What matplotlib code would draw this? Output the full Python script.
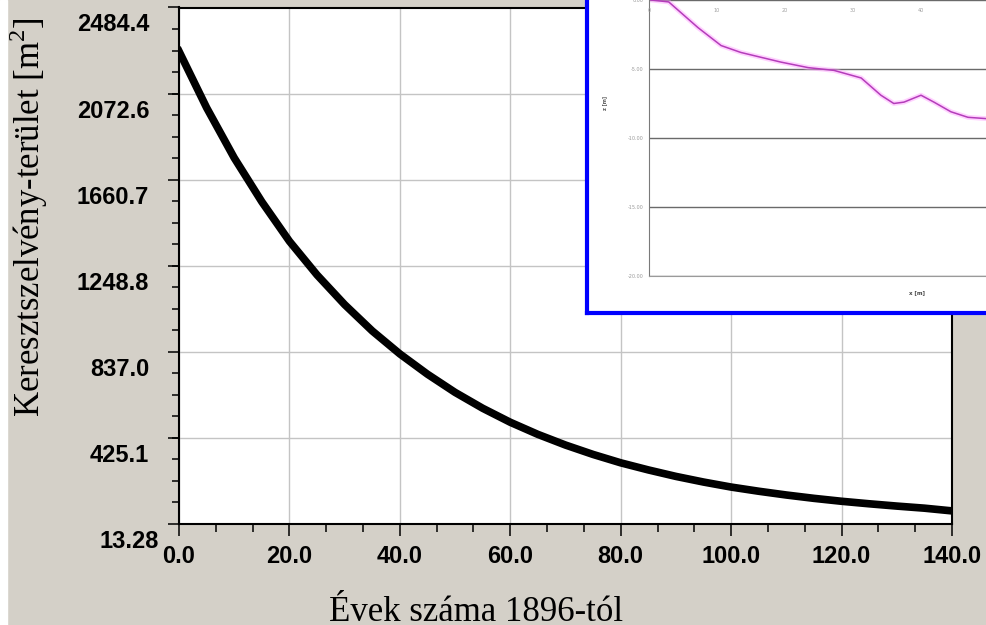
import numpy as np
import matplotlib
matplotlib.use('Agg')
import matplotlib.pyplot as plt
from matplotlib.ticker import FixedLocator, MultipleLocator
from matplotlib.transforms import ScaledTranslation
from matplotlib.patches import Rectangle

# main curve: cross-section area vs. years since 1896
years = [0, 5, 10, 15, 20, 25, 30, 35, 40, 45, 50, 55, 60, 65, 70,
         75, 80, 85, 90, 95, 100, 105, 110, 115, 120, 125, 130, 135, 140]
area = [2275, 2005, 1765, 1555, 1366, 1205, 1063, 937, 827, 730, 643, 567, 500, 442, 391,
        346, 306, 272, 241, 214, 190, 170, 152, 136, 122, 110, 99, 89, 76]

ytick_vals = [13.28, 425.1, 837.0, 1248.8, 1660.7, 2072.6, 2484.4]
ytick_labels = ['13.28', '425.1', '837.0', '1248.8', '1660.7', '2072.6', '2484.4']
xtick_vals = [0, 20, 40, 60, 80, 100, 120, 140]
xtick_labels = ['0.0', '20.0', '40.0', '60.0', '80.0', '100.0', '120.0', '140.0']

# inset picture (cross-section profile)
inset_x = [-1.0, 0.3, 2.9, 7.2, 10.6, 13.5, 19.4, 23.4, 27.2, 31.2, 34.1, 36.0,
           37.5, 40.0, 41.9, 44.4, 46.9, 49.7, 53.0]
inset_y = [0.4, 0.0, -0.14, -2.0, -3.3, -3.8, -4.5, -4.9, -5.1, -5.65, -6.9, -7.5,
           -7.4, -6.9, -7.4, -8.1, -8.5, -8.6, -8.7]
inset_xticks = [0, 10, 20, 30, 40, 50]
inset_yticks = [0, -5, -10, -15, -20]
inset_ylabels = ['0.00', '-5.00', '-10.00', '-15.00', '-20.00']

W, H = 986, 625
bg = '#d4d0c8'
plt.rcParams['mathtext.fontset'] = 'custom'
plt.rcParams['mathtext.rm'] = 'Liberation Serif'


def px_box(x0, y0, x1, y1):
    return [x0 / W, 1 - y1 / H, (x1 - x0) / W, (y1 - y0) / H]


fig = plt.figure(figsize=(W / 100, H / 100), dpi=100, facecolor=bg)
fig.add_artist(Rectangle((0, 0), 7 / W, 1, transform=fig.transFigure,
                         color='white', zorder=0))

ax = fig.add_axes(px_box(179, 7.5, 952, 524))
ax.set_facecolor('white')
ax.plot(years, area, color='black', lw=5.5, zorder=3)
ax.set_xlim(0, 140)
ax.set_ylim(13.28, 2484.4)
ax.set_xticks(xtick_vals)
ax.set_xticklabels(xtick_labels)
ax.xaxis.set_minor_locator(MultipleLocator(20 / 3))
ax.set_yticks(ytick_vals)
ax.set_yticklabels(ytick_labels)
ax.yaxis.set_minor_locator(FixedLocator(np.linspace(13.28, 2484.4, 25)))
ax.grid(which='major', color='#c4c4c4', lw=1.0)
ax.set_axisbelow(True)
for s in ax.spines.values():
    s.set_linewidth(1.5)
    s.set_color('black')

ax.tick_params(axis='x', which='major', direction='out', length=8.6, width=1.1,
               pad=6.5, labelsize=17)
ax.tick_params(axis='x', which='minor', direction='out', length=5.8, width=1.1)
ax.tick_params(axis='y', which='major', direction='out', length=8, width=1.1,
               pad=13.5, labelsize=17)
ax.tick_params(axis='y', which='minor', direction='out', length=5, width=1.1)

for lab in ax.get_xticklabels() + ax.get_yticklabels():
    lab.set_fontweight('bold')
    lab.set_family('Liberation Sans')

# y labels sit a bit below their ticks in the original
ylabs = ax.get_yticklabels()
for i, lab in enumerate(ylabs):
    dx = 10 / 100 if i == 0 else 0
    lab.set_transform(lab.get_transform() +
                      ScaledTranslation(dx, -15 / 100, fig.dpi_scale_trans))

fig.text(29 / W, 1 - 217 / H, r'Keresztszelvény-terület [m$^\mathrm{2}$]',
         rotation=90, ha='center', va='center', fontsize=25,
         family='Liberation Serif')
fig.text(476 / W, 1 - 621 / H, 'Évek száma 1896-tól', ha='center',
         va='baseline', fontsize=25, family='Liberation Serif')

# inset with blue frame
frame = fig.add_axes(px_box(587, -10, 1010, 313))
frame.set_facecolor('white')
frame.set_xticks([])
frame.set_yticks([])
for s in frame.spines.values():
    s.set_color('#0000ff')
    s.set_linewidth(3)

inner = fig.add_axes(px_box(649, -20, 1010, 276))
inner.set_facecolor('none')
inner.set_xlim(0, (1010 - 649) / 6.8)
inner.set_ylim(-20, -20 + 296 / 13.8)
inner.plot(inset_x, inset_y, color='#ff9cff', lw=3.5, alpha=0.45)
inner.plot(inset_x, inset_y, color='#b43cba', lw=1.1)
inner.set_yticks(inset_yticks)
inner.set_yticklabels(inset_ylabels, fontsize=3.5, color='#9a9a9a')
inner.yaxis.grid(True, color='#6a6a6a', lw=1.0)
inner.tick_params(axis='y', length=0, pad=4)
inner.set_xticks([])
for s in ['top', 'right']:
    inner.spines[s].set_visible(False)
inner.spines['left'].set_color('#7a7a7a')
inner.spines['bottom'].set_color('#9a9a9a')
for v in inset_xticks:
    inner.annotate(str(v), (v, 0), xytext=(0, -6), textcoords='offset points',
                   ha='center', va='top', fontsize=3.5, color='#a0a0a0')
fig.text(605 / W, 1 - 103 / H, 'z [m]', rotation=90, ha='center', va='center',
         fontsize=3.5, color='#555555', fontweight='bold')
fig.text(917 / W, 1 - 293 / H, 'x [m]', ha='center', va='center',
         fontsize=4, color='#444444', fontweight='bold')

fig.savefig('out.png', dpi=100, facecolor=bg)
